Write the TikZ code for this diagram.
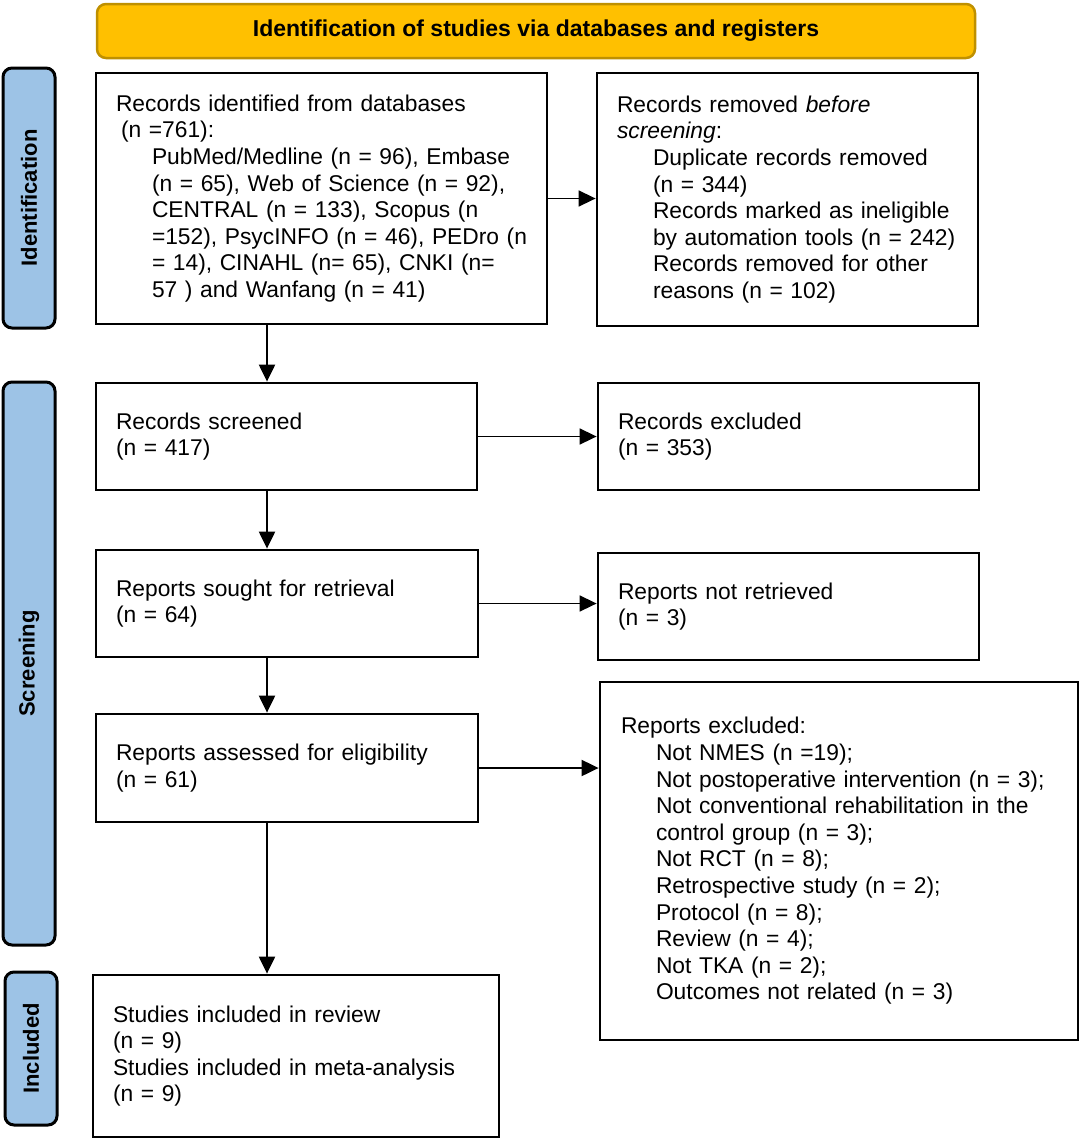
\documentclass[tikz,border=0pt]{standalone}
\usepackage{fontspec}
\setmainfont{Liberation Sans}
\usetikzlibrary{arrows.meta}
\definecolor{bannerfill}{RGB}{255,192,0}
\definecolor{bannerdraw}{RGB}{191,144,0}
\definecolor{labelfill}{RGB}{157,195,230}
\newcommand{\ind}{\hspace*{36pt}}
\begin{document}
\begin{tikzpicture}[x=1pt,y=-1pt,
  txt/.style={font=\fontsize{22.8}{26.6}\selectfont},
  box/.style={draw, line width=2.8pt, rectangle, align=left, txt, inner xsep=20pt, inner ysep=0pt, anchor=center},
  phase/.style={draw, line width=3pt, fill=labelfill, rounded corners=9pt, rotate=90, inner sep=0pt,
    font=\fontsize{22}{26}\selectfont\bfseries, anchor=center},
  banner/.style={draw=bannerdraw, fill=bannerfill, line width=2.5pt, rounded corners=9pt, inner sep=0pt,
    font=\fontsize{23}{26}\selectfont\bfseries, anchor=center},
  harrow/.style={line width=1.6pt, -{Triangle[length=17pt,width=16pt]}},
  varrow/.style={line width=2.2pt, -{Triangle[length=17pt,width=16pt]}}
]
\useasboundingbox (0,0) rectangle (1084,1144);
\fill[white] (0,0) rectangle (1084,1144);

\node[banner, minimum width=878pt, minimum height=54pt] (top) at (536,31) {Identification of studies via databases and registers};

\node[phase, minimum width=260pt, minimum height=52pt] (pid) at (29,198) {Identification};
\node[phase, minimum width=563pt, minimum height=52pt] (psc) at (29,663.5) {Screening};
\node[phase, minimum width=153pt, minimum height=52pt] (pin) at (31,1048.5) {Included};

\node[box, minimum width=451pt, minimum height=251pt, text width=411pt] (ident) at (321.5,198.5) {%
Records identified from databases\\
\hspace*{5pt}(n =761):\\
\ind PubMed/Medline (n = 96), Embase\\
\ind (n = 65), Web of Science (n = 92),\\
\ind CENTRAL (n = 133), Scopus (n\\
\ind \mbox{=152), PsycINFO (n = 46), PEDro (n}\\
\ind = 14), CINAHL (n= 65), CNKI (n=\\
\ind 57 ) and Wanfang (n = 41)};

\node[box, minimum width=381pt, minimum height=253pt, text width=341pt] (removed) at (787.5,199.5) {%
Records removed \textit{before}\\
\textit{screening}:\\
\ind Duplicate records removed\\
\ind (n = 344)\\
\ind Records marked as ineligible\\
\ind by automation tools (n = 242)\\
\ind Records removed for other\\
\ind reasons (n = 102)};

\node[box, minimum width=381pt, minimum height=107pt, text width=341pt] (screened) at (286.5,436.5) {%
Records screened\\
(n = 417)};

\node[box, minimum width=381pt, minimum height=107pt, text width=341pt] (excluded) at (788.5,436.5) {%
Records excluded\\
(n = 353)};

\node[box, minimum width=382pt, minimum height=107pt, text width=342pt] (sought) at (287,603.5) {%
Reports sought for retrieval\\
(n = 64)};

\node[box, minimum width=381pt, minimum height=107pt, text width=341pt] (notret) at (788.5,606.5) {%
Reports not retrieved\\
(n = 3)};

\node[box, minimum width=382pt, minimum height=108pt, text width=342pt] (assessed) at (287,768) {%
Reports assessed for eligibility\\
(n = 61)};

\node[box, minimum width=478pt, minimum height=358pt, text width=436pt, inner xsep=21pt] (repexcl) at (839,861) {%
Reports excluded:\\
\hspace*{35pt}Not NMES (n =19);\\
\hspace*{35pt}Not postoperative intervention (n = 3);\\
\hspace*{35pt}Not conventional rehabilitation in the\\
\hspace*{35pt}control group (n = 3);\\
\hspace*{35pt}Not RCT (n = 8);\\
\hspace*{35pt}Retrospective study (n = 2);\\
\hspace*{35pt}Protocol (n = 8);\\
\hspace*{35pt}Review (n = 4);\\
\hspace*{35pt}Not TKA (n = 2);\\
\hspace*{35pt}Outcomes not related (n = 3)};

\node[box, minimum width=406pt, minimum height=162pt, text width=366pt] (included) at (296,1056) {%
Studies included in review\\
(n = 9)\\
Studies included in meta-analysis\\
(n = 9)};

\coordinate (colx) at (267,0);

\draw[harrow] (ident.east) -- (ident.east -| removed.west);
\draw[harrow] (screened.east) -- (screened.east -| excluded.west);
\draw[harrow] (sought.east) -- (sought.east -| notret.west);
\draw[harrow, line width=2pt] (assessed.east) -- (assessed.east -| repexcl.west);

\draw[varrow] (ident.south -| colx) -- (screened.north -| colx);
\draw[varrow] (screened.south -| colx) -- (sought.north -| colx);
\draw[varrow] (sought.south -| colx) -- (assessed.north -| colx);
\draw[varrow] (assessed.south -| colx) -- (included.north -| colx);
\end{tikzpicture}
\end{document}
